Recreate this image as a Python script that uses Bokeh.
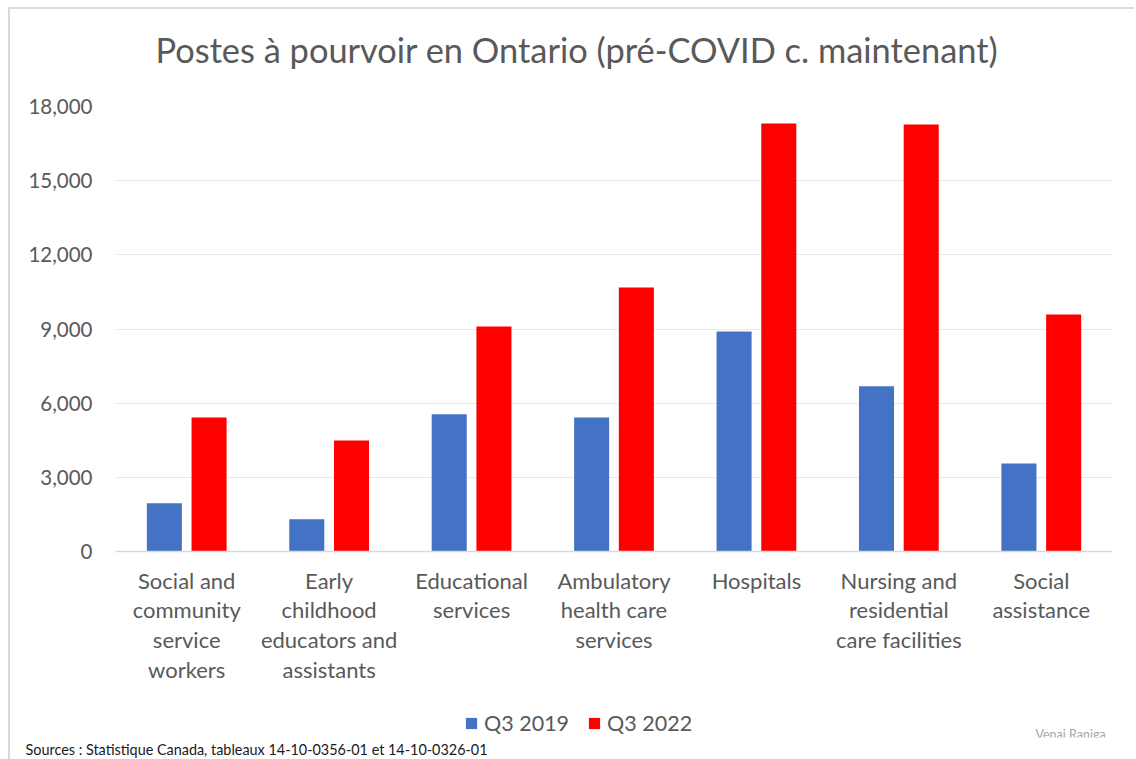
from bokeh.plotting import figure
from bokeh.layouts import column
from bokeh.models import (FactorRange, Legend, LegendItem, Title, Label, NumeralTickFormatter,
                          FixedTicker, ColumnDataSource, Range1d)
from bokeh.transform import dodge
from bokeh.embed import file_html
from bokeh.resources import INLINE

categories = [
    "Social and\ncommunity\nservice\nworkers",
    "Early\nchildhood\neducators and\nassistants",
    "Educational\nservices",
    "Ambulatory\nhealth care\nservices",
    "Hospitals",
    "Nursing and\nresidential\ncare facilities",
    "Social\nassistance",
]
q3_2019 = [1950, 1300, 5550, 5420, 8900, 6680, 3560]
q3_2022 = [5420, 4490, 9100, 10680, 17310, 17270, 9590]
series = ["Q3 2019", "Q3 2022"]
colors = ["#4472c4", "#ff0000"]
y_ticks = [0, 3000, 6000, 9000, 12000, 15000, 18000]
title_text = "Postes à pourvoir en Ontario (pré-COVID c. maintenant)"
source_text = "Sources : Statistique Canada, tableaux 14-10-0356-01 et 14-10-0326-01"
author_text = "Venai Raniga"

FONT = "Lato"
GREY = "#595959"
BORDER = "2px solid #d9d9d9"

src = ColumnDataSource(dict(cat=categories, a=q3_2019, b=q3_2022))
x_range = FactorRange(factors=categories, range_padding=0)


def strip(height, margin, styles):
    f = figure(width=1126, height=height, margin=margin,
               x_range=x_range, y_range=Range1d(0, 1),
               x_axis_type=None, y_axis_type=None,
               min_border_left=105, min_border_right=24, min_border_top=0, min_border_bottom=0,
               output_backend="svg", toolbar_location=None, styles=styles)
    f.outline_line_color = None
    f.background_fill_color = "white"
    f.border_fill_color = "white"
    f.xgrid.visible = False
    f.ygrid.visible = False
    return f


# ---- title strip ----
t = strip(82, (7, 0, 0, 8), {"border-left": BORDER, "border-top": BORDER})
t.add_layout(Label(x=40, y=42, x_units="screen", y_units="screen", text=title_text,
                   text_align="left", text_baseline="alphabetic", text_font=FONT,
                   text_font_size="34.4px", text_color=GREY))

# ---- main chart ----
p = figure(x_range=x_range, y_range=(0, 18000),
           width=1126, height=598, margin=(0, 0, 0, 8),
           min_border_left=105, min_border_right=24, min_border_top=17, min_border_bottom=136,
           output_backend="svg", toolbar_location=None,
           styles={"border-left": BORDER})
p.outline_line_color = None
p.background_fill_color = "white"
p.border_fill_color = "white"

r1 = p.vbar(x=dodge("cat", -0.157, range=x_range), top="a", width=0.246, source=src,
            fill_color=colors[0], line_color=None)
r2 = p.vbar(x=dodge("cat", 0.157, range=x_range), top="b", width=0.246, source=src,
            fill_color=colors[1], line_color=None)

p.xgrid.grid_line_color = None
p.ygrid.grid_line_color = "#e8e8e8"
p.ygrid.grid_line_width = 1.2

p.yaxis.ticker = FixedTicker(ticks=y_ticks)
p.yaxis.formatter = NumeralTickFormatter(format="0,0")
p.yaxis.axis_line_color = None
p.yaxis.major_tick_line_color = None
p.yaxis.minor_tick_line_color = None
p.yaxis.major_label_text_font = FONT
p.yaxis.major_label_text_font_size = "20.5px"
p.yaxis.major_label_text_color = GREY
p.yaxis.major_label_standoff = 17

p.xaxis.axis_line_color = "#d9d9d9"
p.xaxis.axis_line_width = 1.5
p.xaxis.major_tick_line_color = None
p.xaxis.minor_tick_line_color = None
p.xaxis.major_label_text_font = FONT
p.xaxis.major_label_text_font_size = "22px"
p.xaxis.major_label_text_color = GREY
p.xaxis.major_label_standoff = 9
p.xaxis.major_label_text_line_height = 1.1

# ---- footer strip: legend + sources ----
q = strip(72, (0, 0, 0, 8), {"border-left": BORDER})
# legend keys: same series, drawn with zero size (nothing visible in the strip)
lr1 = q.vbar(x=dodge("cat", -0.157, range=x_range), top="a", bottom="a", width=0,
             source=src, fill_color=colors[0], line_color=None)
lr2 = q.vbar(x=dodge("cat", 0.157, range=x_range), top="b", bottom="b", width=0,
             source=src, fill_color=colors[1], line_color=None)

legend = Legend(items=[LegendItem(label=series[0], renderers=[lr1]),
                       LegendItem(label=series[1], renderers=[lr2])],
                orientation="horizontal", location=(349, 1),
                glyph_width=14, glyph_height=14, label_standoff=6, spacing=18,
                padding=0, margin=0, border_line_color=None, background_fill_alpha=0,
                label_text_font=FONT, label_text_font_size="21.5px", label_text_color=GREY)
q.add_layout(legend)

q.add_layout(Label(x=920, y=3, x_units="screen", y_units="screen", text=author_text,
                   text_align="left", text_baseline="alphabetic", text_font=FONT,
                   text_font_size="12.5px", text_color="#a6a6a6"))

q.add_layout(Title(text=source_text, align="left", offset=-90, standoff=3,
                   text_font=FONT, text_font_size="14.4px", text_font_style="normal",
                   text_color="#1a1a1a"), "below")

layout = column(t, p, q, spacing=0)
open("out.html", "w").write(file_html(layout, INLINE))
